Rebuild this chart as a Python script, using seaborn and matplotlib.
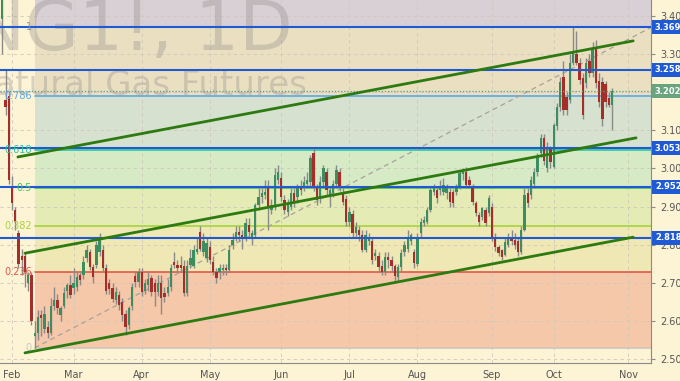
import numpy as np
import pandas as pd
import matplotlib
matplotlib.use("Agg")
import matplotlib.pyplot as plt
import matplotlib.transforms as mtransforms
import seaborn as sns

# ---------------------------------------------
# NG1! daily candles, 29 Jan 2018 -> 25 Oct 2018
# ---------------------------------------------
opens = [3.39, 3.18, 3.19, 2.95, 2.89, 2.83, 2.77, 2.77, 2.70, 2.72,
         2.56, 2.57, 2.616, 2.58, 2.585, 2.57, 2.64, 2.655, 2.616, 2.64,
         2.68, 2.694, 2.686, 2.69, 2.72, 2.72, 2.765, 2.78, 2.743, 2.747,
         2.78, 2.786, 2.74, 2.70, 2.687, 2.655, 2.668, 2.65, 2.62, 2.59,
         2.64, 2.718, 2.702, 2.728, 2.68, 2.695, 2.713, 2.70, 2.676, 2.70,
         2.674, 2.674, 2.69, 2.755, 2.748, 2.748, 2.745, 2.674, 2.747, 2.745,
         2.78, 2.834, 2.78, 2.765, 2.794, 2.755, 2.73, 2.728, 2.735, 2.74,
         2.735, 2.80, 2.82, 2.834, 2.826, 2.82, 2.852, 2.82, 2.826, 2.904,
         2.925, 2.93, 2.948, 2.89, 2.90, 2.97, 2.975, 2.917, 2.886, 2.90,
         2.935, 2.925, 2.948, 2.95, 2.96, 2.964, 3.04, 2.95, 2.925, 2.965,
         2.99, 2.93, 2.935, 2.96, 2.99, 2.935, 2.92, 2.86, 2.88, 2.83,
         2.84, 2.826, 2.786, 2.81, 2.81, 2.77, 2.77, 2.745, 2.73, 2.768,
         2.76, 2.745, 2.716, 2.742, 2.78, 2.79, 2.81, 2.78, 2.75, 2.83,
         2.858, 2.86, 2.89, 2.938, 2.943, 2.943, 2.938, 2.935, 2.938, 2.938,
         2.938, 2.951, 2.985, 2.99, 2.97, 2.951, 2.909, 2.878, 2.873, 2.891,
         2.883, 2.899, 2.82, 2.794, 2.786, 2.773, 2.80, 2.818, 2.812, 2.81,
         2.78, 2.84, 2.936, 2.93, 2.96, 2.99, 3.04, 3.08, 3.00, 3.05,
         3.004, 3.11, 3.16, 3.24, 3.187, 3.18, 3.276, 3.30, 3.276, 3.236,
         3.224, 3.28, 3.25, 3.315, 3.23, 3.226, 3.22, 3.185, 3.166]
highs = [3.46, 3.26, 3.20, 2.98, 2.90, 2.84, 2.79, 2.78, 2.73, 2.73,
         2.60, 2.63, 2.63, 2.64, 2.60, 2.66, 2.69, 2.67, 2.64, 2.69,
         2.70, 2.72, 2.74, 2.73, 2.73, 2.77, 2.80, 2.79, 2.75, 2.81,
         2.83, 2.80, 2.75, 2.71, 2.70, 2.69, 2.68, 2.66, 2.63, 2.64,
         2.70, 2.73, 2.74, 2.74, 2.71, 2.73, 2.72, 2.71, 2.72, 2.72,
         2.69, 2.71, 2.75, 2.78, 2.76, 2.77, 2.76, 2.76, 2.79, 2.80,
         2.82, 2.85, 2.83, 2.82, 2.81, 2.77, 2.74, 2.75, 2.75, 2.75,
         2.80, 2.83, 2.85, 2.85, 2.84, 2.87, 2.87, 2.84, 2.91, 2.95,
         2.95, 2.97, 2.97, 2.92, 3.00, 3.01, 2.99, 2.93, 2.92, 2.95,
         2.95, 2.96, 2.97, 2.98, 2.99, 3.035, 3.055, 2.96, 2.98, 3.01,
         3.00, 2.95, 2.97, 3.01, 3.00, 2.95, 2.93, 2.90, 2.89, 2.86,
         2.85, 2.84, 2.84, 2.83, 2.82, 2.79, 2.78, 2.76, 2.78, 2.78,
         2.77, 2.75, 2.75, 2.79, 2.81, 2.84, 2.83, 2.79, 2.83, 2.87,
         2.875, 2.90, 2.95, 2.96, 2.955, 2.97, 2.975, 2.96, 2.95, 2.945,
         2.96, 2.995, 3.00, 3.005, 2.98, 2.96, 2.915, 2.885, 2.90, 2.90,
         2.93, 2.91, 2.83, 2.80, 2.79, 2.82, 2.83, 2.84, 2.83, 2.82,
         2.85, 2.95, 2.95, 2.98, 3.00, 3.04, 3.09, 3.09, 3.07, 3.06,
         3.12, 3.17, 3.24, 3.28, 3.20, 3.30, 3.37, 3.36, 3.29, 3.25,
         3.29, 3.30, 3.33, 3.335, 3.25, 3.24, 3.23, 3.20, 3.21]
lows = [3.30, 3.14, 2.96, 2.89, 2.84, 2.74, 2.72, 2.69, 2.68, 2.59,
        2.53, 2.55, 2.56, 2.57, 2.555, 2.565, 2.63, 2.62, 2.60, 2.635,
        2.66, 2.66, 2.67, 2.68, 2.695, 2.71, 2.755, 2.735, 2.70, 2.74,
        2.77, 2.73, 2.67, 2.67, 2.65, 2.645, 2.63, 2.60, 2.565, 2.58,
        2.63, 2.69, 2.69, 2.665, 2.67, 2.68, 2.665, 2.64, 2.665, 2.62,
        2.65, 2.665, 2.68, 2.74, 2.73, 2.73, 2.665, 2.665, 2.74, 2.74,
        2.775, 2.785, 2.77, 2.755, 2.75, 2.72, 2.70, 2.71, 2.72, 2.72,
        2.73, 2.79, 2.81, 2.81, 2.79, 2.81, 2.82, 2.80, 2.82, 2.89,
        2.91, 2.92, 2.84, 2.88, 2.89, 2.96, 2.915, 2.88, 2.875, 2.89,
        2.90, 2.91, 2.93, 2.94, 2.95, 2.955, 2.94, 2.905, 2.91, 2.955,
        2.93, 2.90, 2.925, 2.95, 2.94, 2.905, 2.85, 2.85, 2.82, 2.82,
        2.81, 2.78, 2.78, 2.80, 2.75, 2.76, 2.73, 2.72, 2.72, 2.74,
        2.73, 2.70, 2.705, 2.73, 2.77, 2.78, 2.80, 2.74, 2.745, 2.82,
        2.85, 2.855, 2.885, 2.93, 2.91, 2.93, 2.93, 2.92, 2.90, 2.90,
        2.93, 2.945, 2.97, 2.95, 2.95, 2.905, 2.875, 2.85, 2.865, 2.85,
        2.875, 2.81, 2.785, 2.77, 2.76, 2.77, 2.795, 2.80, 2.79, 2.77,
        2.775, 2.835, 2.90, 2.92, 2.95, 2.98, 3.03, 3.01, 2.99, 3.00,
        3.00, 3.10, 3.15, 3.14, 3.14, 3.17, 3.27, 3.27, 3.22, 3.13,
        3.21, 3.24, 3.24, 3.21, 3.16, 3.11, 3.16, 3.16, 3.10]
closes = [3.44, 3.16, 2.97, 2.91, 2.86, 2.75, 2.76, 2.73, 2.72, 2.60,
          2.57, 2.61, 2.608, 2.62, 2.569, 2.64, 2.655, 2.635, 2.634, 2.675,
          2.695, 2.668, 2.70, 2.715, 2.708, 2.755, 2.786, 2.743, 2.716, 2.80,
          2.812, 2.74, 2.68, 2.685, 2.658, 2.676, 2.642, 2.616, 2.585, 2.634,
          2.69, 2.702, 2.728, 2.676, 2.70, 2.71, 2.676, 2.676, 2.70, 2.66,
          2.663, 2.69, 2.74, 2.748, 2.74, 2.74, 2.674, 2.745, 2.765, 2.786,
          2.79, 2.79, 2.81, 2.805, 2.76, 2.73, 2.713, 2.74, 2.74, 2.735,
          2.786, 2.812, 2.834, 2.826, 2.82, 2.857, 2.834, 2.83, 2.904, 2.925,
          2.935, 2.938, 2.899, 2.904, 2.983, 2.99, 2.925, 2.89, 2.904, 2.935,
          2.91, 2.948, 2.943, 2.964, 2.97, 3.027, 2.95, 2.917, 2.965, 3.00,
          2.944, 2.943, 2.96, 2.996, 2.95, 2.913, 2.86, 2.886, 2.83, 2.846,
          2.825, 2.786, 2.826, 2.82, 2.76, 2.778, 2.742, 2.73, 2.768, 2.76,
          2.745, 2.718, 2.742, 2.778, 2.80, 2.82, 2.825, 2.752, 2.82, 2.86,
          2.865, 2.89, 2.943, 2.948, 2.922, 2.954, 2.956, 2.948, 2.912, 2.91,
          2.951, 2.988, 2.99, 2.957, 2.957, 2.912, 2.883, 2.86, 2.896, 2.857,
          2.922, 2.818, 2.794, 2.778, 2.768, 2.807, 2.82, 2.81, 2.80, 2.78,
          2.84, 2.93, 2.91, 2.97, 2.99, 3.03, 3.08, 3.02, 3.056, 3.016,
          3.114, 3.16, 3.226, 3.153, 3.153, 3.276, 3.305, 3.276, 3.231, 3.14,
          3.276, 3.25, 3.315, 3.224, 3.175, 3.13, 3.175, 3.166, 3.202]

first_day = "2018-01-29"
holidays = ["2018-02-19", "2018-03-30", "2018-05-28", "2018-07-04", "2018-09-03"]

# Fibonacci retracement (low -> high)
fib_low, fib_high = 2.530, 3.369
fib_ratios = [0, 0.236, 0.382, 0.5, 0.618, 0.786, 1]
fib_labels = ["0", "0.236", "0.382", "0.5", "0.618", "0.786", "1"]
fib_line_colors = ["#cfc6bc", "#e0584a", "#a6d33c", "#4cc35a", "#2cc6a0", "#5aa8e6", "#9a948e"]
fib_zone_colors = ["#f5c8a9", "#f0e8b4", "#e4ebb5", "#d7eac6", "#d6e1cf", "#eadfc1", "#d9d0d5"]

# horizontal support / resistance levels
levels = [3.369, 3.258, 3.053, 2.952, 2.818]
last_price = 3.202

# channel trendlines: (bar start, price start, bar end, price end)
channel_upper = [4.8, 3.030, 194.5, 3.334]
channel_mid = [7.0, 2.778, 195.4, 3.080]
channel_lower = [7.0, 2.517, 194.5, 2.820]

# ---------------------------------------------
# figure
# ---------------------------------------------
sns.set_style("white")
plt.rcParams['font.family'] = ['DejaVu Sans']

bg = "#fdf3d5"
fig = plt.figure(figsize=(6.8, 3.81), dpi=100)
fig.patch.set_facecolor(bg)
ax = fig.add_axes([0, 18 / 381, 651 / 680, 363 / 381])
ax.set_facecolor(bg)

o = np.array(opens); h = np.array(highs); l = np.array(lows); c = np.array(closes)
n = len(c)
x = np.arange(n)

days = pd.bdate_range(first_day, "2018-11-30", freq="C", holidays=holidays)
x_left, x_right = -0.7, 200.0
y_bot, y_top = 2.4905, 3.441

# fib zones start at the swing low bar
fib_start = int(np.argmin(l))
fib_vals = [fib_low + r * (fib_high - fib_low) for r in fib_ratios]
bounds = fib_vals + [y_top]
for i in range(len(fib_vals)):
    ax.fill_between([fib_start, x_right], bounds[i], bounds[i + 1],
                    color=fib_zone_colors[i], lw=0, zorder=0)
for v, lab, col in zip(fib_vals, fib_labels, fib_line_colors):
    ax.plot([fib_start, x_right], [v, v], color=col, lw=1.2, zorder=1)
    ax.text(fib_start - 0.9, v, lab, color=col, fontsize=7, ha="right",
            va="center", zorder=6)

# fib diagonal
ax.plot([fib_start, x_right], [fib_low, fib_high], color="#a8a29a",
        lw=0.9, ls=(0, (4, 3)), zorder=1.5)

# watermark
ax.text(293 / 651, (363 - 50) / 363, "NG1!, 1D", transform=ax.transAxes,
        fontsize=50, color="#8f8a88", alpha=0.33, ha="right", va="baseline", zorder=1)
ax.text(307 / 651, (363 - 95) / 363, "Natural Gas Futures", transform=ax.transAxes,
        fontsize=24.5, color="#8f8a88", alpha=0.33, ha="right", va="baseline", zorder=1)

# candles
up = c >= o
colors = np.where(up, "#3c8e60", "#a52f28")
ax.vlines(x, l, h, color="#8a8a8a", lw=1.0, zorder=3)
body = np.maximum(np.abs(c - o), 0.003)
ax.bar(x, body, bottom=np.minimum(o, c), width=0.72, color=colors,
       linewidth=0, zorder=4)

# horizontal levels
trans = mtransforms.blended_transform_factory(ax.transAxes, ax.transData)
for lv in levels:
    ax.axhline(lv, color="#1f5ad4", lw=1.5, zorder=4.5)
    ax.text(1.006, lv, f"{lv:.3f}", transform=trans, fontsize=6, color="white",
            fontweight="bold", ha="left", va="center", clip_on=False, zorder=10,
            bbox=dict(boxstyle="square,pad=0.3", fc="#1f5ad4", ec="none"))
ax.axhline(last_price, color="#5e9c86", lw=0.9, ls=(0, (1, 1.5)), zorder=4.5)
ax.text(1.006, last_price, f"{last_price:.3f}", transform=trans, fontsize=6,
        color="white", fontweight="bold", ha="left", va="center", clip_on=False,
        zorder=10, bbox=dict(boxstyle="square,pad=0.3", fc="#6aa47e", ec="none"))

# channel lines
for ln in (channel_upper, channel_mid, channel_lower):
    sns.lineplot(x=[ln[0], ln[2]], y=[ln[1], ln[3]], ax=ax, color="#2c7a10",
                 lw=2, zorder=6)

# axes
ax.set_xlim(x_left, x_right)
ax.set_ylim(y_bot, y_top)
month_pos = [int(np.argmax(days.month == m)) for m in range(2, 12)]
ax.set_xticks(month_pos)
ax.set_xticklabels([days[p].strftime("%b") for p in month_pos])
ax.set_yticks(np.arange(2.5, 3.41, 0.1))
ax.yaxis.set_major_formatter(matplotlib.ticker.FormatStrFormatter("%.3f"))
ax.yaxis.tick_right()
ax.tick_params(axis="both", labelsize=7, colors="#8a8a8a", labelcolor="#555555",
               length=3, width=0.8)
ax.tick_params(axis="x", pad=2)
ax.grid(True, color="#cfc8bb", lw=0.6, ls=(0, (4, 4)), zorder=0.5)
for s in ("left", "top"):
    ax.spines[s].set_visible(False)
for s in ("right", "bottom"):
    ax.spines[s].set_color("#8a8a8a")
    ax.spines[s].set_linewidth(0.8)

plt.savefig("out.png", dpi=100, facecolor=bg)
